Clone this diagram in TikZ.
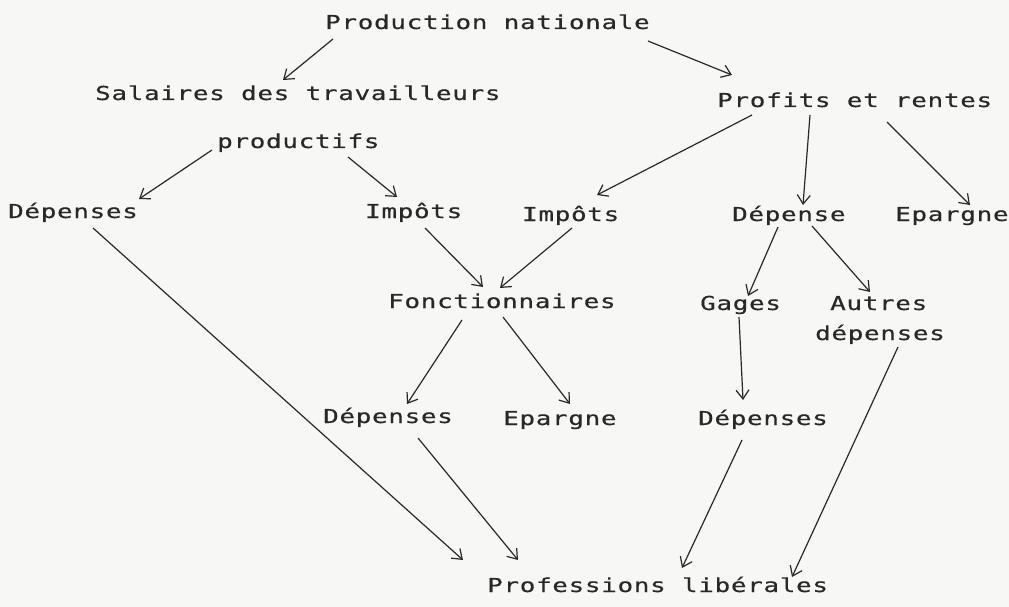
\documentclass[tikz,border=0pt]{standalone}
\usepackage{fontspec}
\usetikzlibrary{arrows.meta}
\newfontfamily\twfont[FakeStretch=1.35,LetterSpace=3.6,FakeBold=0.4]{DejaVu Sans Mono}
\definecolor{ink}{RGB}{40,40,40}
\definecolor{paper}{RGB}{247,247,245}
\begin{document}
\begin{tikzpicture}[x=1pt,y=-1pt,
  lbl/.style={anchor=base west, inner sep=0pt, text=ink, font=\twfont\fontsize{19.2}{23}\selectfont},
  arr/.style={draw=ink, line width=1.2pt, -{Straight Barb[length=9pt,width=13pt,line width=1.2pt]}}]
\fill[paper] (0,0) rectangle (1009,607);
\useasboundingbox (0,0) rectangle (1009,607);
% nodes
\node[lbl] (prod) at (325,29) {Production nationale};
\node[lbl] (sal) at (95,100) {Salaires des travailleurs};
\node[lbl] (prodf) at (217,148) {productifs};
\node[lbl] (prof) at (717,107) {Profits et rentes};
\node[lbl] (depL) at (8,218) {Dépenses};
\node[lbl] (imp1) at (365,218) {Impôts};
\node[lbl] (imp2) at (522,221) {Impôts};
\node[lbl] (dep) at (732,221) {Dépense};
\node[lbl] (epR) at (895,221) {Epargne};
\node[lbl] (fonc) at (388,308) {Fonctionnaires};
\node[lbl] (gages) at (700,310) {Gages};
\node[lbl] (autres) at (830,310) {Autres};
\node[lbl] (autresb) at (815,340) {dépenses};
\node[lbl] (depM) at (323,423) {Dépenses};
\node[lbl] (epM) at (503,425) {Epargne};
\node[lbl] (depR) at (698,425) {Dépenses};
\node[lbl] (profl) at (487,592) {Professions libérales};
% connectors
\draw[arr] ([shift={(8,10)}]prod.base west) -- ([shift={(188,-20)}]sal.base west);
\draw[arr] ([shift={(323,12)}]prod.base west) -- ([shift={(15,-32)}]prof.base west);
\draw[arr] ([shift={(-5,2)}]prodf.base west) -- ([shift={(131,-19)}]depL.base west);
\draw[arr] ([shift={(131,9)}]prodf.base west) -- ([shift={(32,-21)}]imp1.base west);
\draw[arr] ([shift={(35,8)}]prof.base west) -- ([shift={(75,-26)}]imp2.base west);
\draw[arr] ([shift={(93,8)}]prof.base west) -- ([shift={(71,-16)}]dep.base west);
\draw[arr] ([shift={(170,15)}]prof.base west) -- ([shift={(75,-16)}]epR.base west);
\draw[arr] ([shift={(60,10)}]imp1.base west) -- ([shift={(95,-21)}]fonc.base west);
\draw[arr] ([shift={(50,7)}]imp2.base west) -- ([shift={(112,-20)}]fonc.base west);
\draw[arr] ([shift={(46,6)}]dep.base west) -- ([shift={(48,-14)}]gages.base west);
\draw[arr] ([shift={(80,5)}]dep.base west) -- ([shift={(40,-18)}]autres.base west);
\draw[arr] ([shift={(74,12)}]fonc.base west) -- ([shift={(84,-19)}]depM.base west);
\draw[arr] ([shift={(115,9)}]fonc.base west) -- ([shift={(67,-21)}]epM.base west);
\draw[arr] ([shift={(39,7)}]gages.base west) -- ([shift={(45,-25)}]depR.base west);
\draw[arr] ([shift={(85,10)}]depL.base west) -- ([shift={(-24,-32)}]profl.base west);
\draw[arr] ([shift={(95,15)}]depM.base west) -- ([shift={(31,-32)}]profl.base west);
\draw[arr] ([shift={(44,15)}]depR.base west) -- ([shift={(195,-24)}]profl.base west);
\draw[arr] ([shift={(83,7)}]autresb.base west) -- ([shift={(305,-15)}]profl.base west);
\end{tikzpicture}
\end{document}
